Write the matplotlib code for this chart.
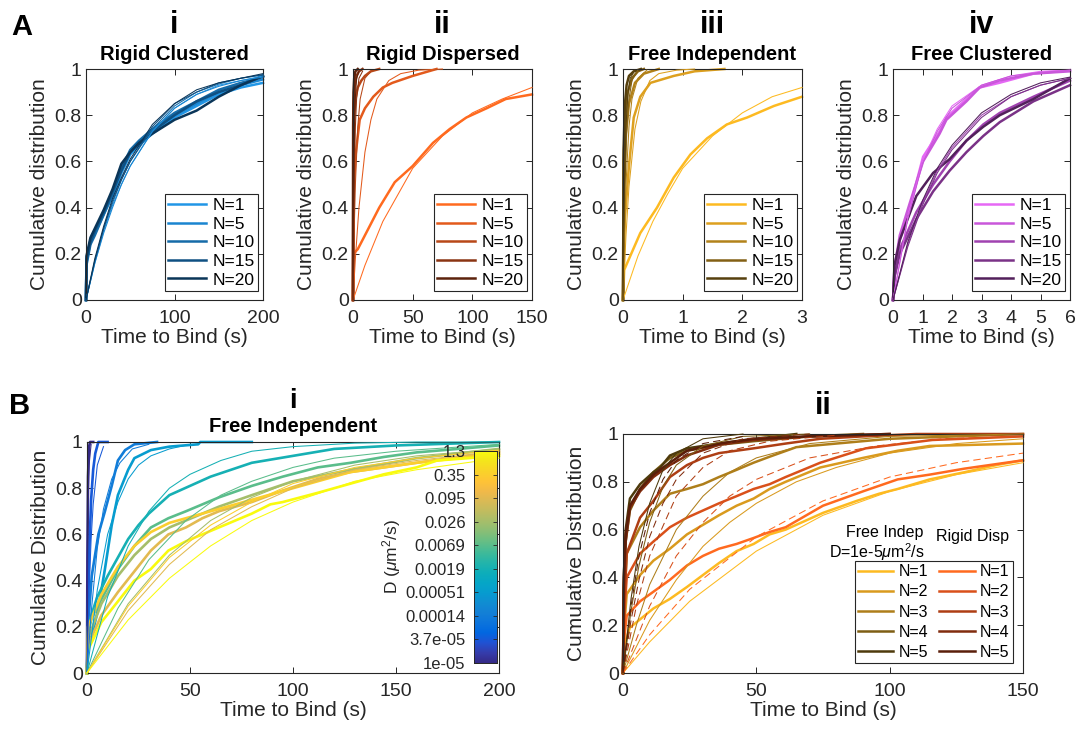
import numpy as np
import matplotlib
matplotlib.use('Agg')
import matplotlib.pyplot as plt
from matplotlib.colors import LinearSegmentedColormap
from matplotlib.lines import Line2D

plt.rcParams['font.family'] = ['Liberation Sans', 'DejaVu Sans']
plt.rcParams['mathtext.fontset'] = 'custom'
plt.rcParams['mathtext.rm'] = 'Liberation Sans'
plt.rcParams['mathtext.it'] = 'Liberation Sans:italic'

# ---------------------------------------------------------------- DATA
N_labels_A = ['N=1', 'N=5', 'N=10', 'N=15', 'N=20']
N_labels_B = ['N=1', 'N=2', 'N=3', 'N=4', 'N=5']

# ---- A-i Rigid Clustered
A1_emp_t = [[0, 0.5, 5, 10, 20, 30, 40, 50, 60, 75, 100, 125, 150, 175, 200]] * 5
A1_emp_F = [
    [0, 0.16, 0.25, 0.29, 0.37, 0.45, 0.55, 0.63, 0.67, 0.72, 0.79, 0.84, 0.89, 0.92, 0.94],
    [0, 0.18, 0.26, 0.30, 0.38, 0.46, 0.56, 0.64, 0.68, 0.73, 0.80, 0.85, 0.90, 0.93, 0.955],
    [0, 0.15, 0.24, 0.28, 0.37, 0.46, 0.57, 0.65, 0.69, 0.74, 0.81, 0.86, 0.91, 0.94, 0.965],
    [0, 0.17, 0.25, 0.30, 0.38, 0.47, 0.56, 0.64, 0.68, 0.73, 0.80, 0.86, 0.90, 0.93, 0.97],
    [0, 0.19, 0.27, 0.31, 0.39, 0.48, 0.59, 0.64, 0.68, 0.72, 0.78, 0.82, 0.88, 0.93, 0.97],
]
A1_fit_t = [[0, 10, 20, 30, 40, 50, 75, 100, 125, 150, 175, 200]] * 5
A1_fit_F = [
    [0, 0.16, 0.30, 0.41, 0.50, 0.58, 0.73, 0.83, 0.89, 0.93, 0.95, 0.97],
    [0, 0.16, 0.29, 0.40, 0.50, 0.58, 0.73, 0.83, 0.89, 0.925, 0.95, 0.965],
    [0, 0.17, 0.31, 0.42, 0.52, 0.60, 0.74, 0.84, 0.90, 0.935, 0.96, 0.975],
    [0, 0.17, 0.31, 0.43, 0.52, 0.60, 0.75, 0.85, 0.90, 0.94, 0.96, 0.975],
    [0, 0.18, 0.32, 0.44, 0.53, 0.61, 0.76, 0.85, 0.91, 0.94, 0.96, 0.98],
]

# ---- A-ii Rigid Dispersed
A2_emp_t = [
    [0, 0.3, 4, 14, 22, 35, 50, 67, 81, 95, 112, 128, 150],
    [0, 0.5, 2, 5.6, 10, 17, 25, 33, 50, 70],
    [0, 0.3, 1, 2, 4, 7, 10, 15, 22],
    [0, 0.2, 0.6, 1.5, 3, 5, 8],
    [0, 0.1, 0.4, 1, 2, 4],
]
A2_emp_F = [
    [0, 0.20, 0.22, 0.32, 0.40, 0.51, 0.58, 0.68, 0.74, 0.79, 0.83, 0.87, 0.89],
    [0, 0.45, 0.62, 0.78, 0.83, 0.88, 0.92, 0.94, 0.97, 1.0],
    [0, 0.60, 0.80, 0.87, 0.92, 0.95, 0.97, 0.99, 1.0],
    [0, 0.70, 0.85, 0.93, 0.97, 0.99, 1.0],
    [0, 0.75, 0.90, 0.96, 0.99, 1.0],
]
A2_fit_t = [
    [0, 10, 25, 50, 75, 100, 125, 150],
    [0, 2, 5, 10, 15, 20, 30, 40, 55, 75],
    [0, 1, 2, 4, 6, 10, 15],
    [0, 0.5, 1, 2, 3, 5, 8],
    [0, 0.3, 0.6, 1.2, 2, 3, 5],
]
A2_fit_F = [
    [0, 0.15, 0.34, 0.57, 0.71, 0.81, 0.87, 0.92],
    [0, 0.18, 0.40, 0.64, 0.78, 0.87, 0.95, 0.98, 0.995, 1.0],
    [0, 0.30, 0.50, 0.75, 0.87, 0.96, 0.99],
    [0, 0.30, 0.50, 0.75, 0.87, 0.96, 0.99],
    [0, 0.30, 0.50, 0.75, 0.88, 0.96, 0.99],
]

# ---- A-iii Free Independent
A3_emp_t = [
    [0, 0.02, 0.07, 0.29, 0.57, 0.85, 1.13, 1.41, 1.74, 2.08, 2.53, 3.0],
    [0, 0.03, 0.1, 0.18, 0.29, 0.46, 0.85, 1.2, 1.7],
    [0, 0.02, 0.05, 0.1, 0.2, 0.35, 0.6],
    [0, 0.01, 0.04, 0.08, 0.15, 0.25, 0.35],
    [0, 0.01, 0.03, 0.06, 0.1, 0.18, 0.3],
]
A3_emp_F = [
    [0, 0.13, 0.16, 0.29, 0.40, 0.53, 0.63, 0.70, 0.76, 0.79, 0.84, 0.88],
    [0, 0.35, 0.58, 0.79, 0.88, 0.94, 0.97, 0.99, 1.0],
    [0, 0.50, 0.72, 0.85, 0.94, 0.98, 1.0],
    [0, 0.60, 0.80, 0.90, 0.96, 0.99, 1.0],
    [0, 0.65, 0.84, 0.93, 0.97, 0.99, 1.0],
]
A3_fit_t = [
    [0, 0.25, 0.5, 0.75, 1, 1.5, 2, 2.5, 3],
    [0, 0.05, 0.1, 0.2, 0.3, 0.45, 0.6, 0.9, 1.2],
    [0, 0.02, 0.05, 0.1, 0.15, 0.25, 0.4],
    [0, 0.015, 0.03, 0.06, 0.1, 0.15, 0.25],
    [0, 0.01, 0.025, 0.05, 0.08, 0.12, 0.2],
]
A3_fit_F = [
    [0, 0.19, 0.34, 0.46, 0.57, 0.71, 0.81, 0.88, 0.92],
    [0, 0.28, 0.49, 0.74, 0.86, 0.95, 0.98, 0.995, 1.0],
    [0, 0.25, 0.50, 0.75, 0.87, 0.96, 0.995],
    [0, 0.27, 0.46, 0.72, 0.87, 0.95, 0.995],
    [0, 0.25, 0.50, 0.75, 0.89, 0.96, 0.995],
]

# ---- A-iv Free Clustered
A4_emp_t = [
    [0, 0.05, 0.23, 0.57, 1.02, 1.58, 1.81, 2.49, 2.94, 3.6, 4.76, 6],
    [0, 0.05, 0.23, 0.57, 1.02, 1.58, 1.81, 2.49, 2.94, 3.6, 4.76, 6],
    [0, 0.05, 0.23, 0.79, 1.36, 1.92, 2.49, 3.06, 3.62, 4.76, 6],
    [0, 0.05, 0.23, 0.79, 1.36, 1.92, 2.49, 3.06, 3.62, 4.76, 6],
    [0, 0.05, 0.23, 0.79, 1.36, 1.92, 2.49, 3.06, 3.62, 4.76, 6],
]
A4_emp_F = [
    [0, 0.12, 0.26, 0.40, 0.62, 0.73, 0.79, 0.87, 0.92, 0.94, 0.98, 0.995],
    [0, 0.14, 0.28, 0.42, 0.60, 0.72, 0.78, 0.86, 0.92, 0.95, 0.98, 0.99],
    [0, 0.10, 0.22, 0.38, 0.50, 0.60, 0.69, 0.76, 0.81, 0.88, 0.95],
    [0, 0.10, 0.20, 0.35, 0.47, 0.56, 0.64, 0.71, 0.77, 0.86, 0.93],
    [0, 0.15, 0.26, 0.45, 0.55, 0.61, 0.69, 0.75, 0.80, 0.87, 0.96],
]
A4_fit_t = [[0, 0.5, 1, 1.5, 2, 3, 4, 5, 6]] * 5
A4_fit_F = [
    [0, 0.36, 0.60, 0.74, 0.84, 0.93, 0.97, 0.99, 0.995],
    [0, 0.35, 0.59, 0.73, 0.83, 0.93, 0.97, 0.985, 0.995],
    [0, 0.24, 0.42, 0.56, 0.66, 0.80, 0.88, 0.93, 0.96],
    [0, 0.23, 0.41, 0.55, 0.65, 0.79, 0.88, 0.93, 0.96],
    [0, 0.25, 0.43, 0.57, 0.67, 0.81, 0.89, 0.94, 0.965],
]

# ---- B-i Free Independent, varying D
D_labels = ['1e-05', '3.7e-05', '0.00014', '0.00051', '0.0019',
            '0.0069', '0.026', '0.095', '0.35', '1.3']
B1_emp_t = [
    [0, 0.2, 0.5, 1, 1.5, 3],
    [0, 0.5, 1, 2, 3, 4, 5.5, 10],
    [0, 0.5, 2.3, 5.5, 8.7, 12, 15, 18.5, 23, 34],
    [0, 0.5, 2.3, 5.5, 8.7, 12, 15, 20, 23, 31, 40, 54, 55, 80],
    [0, 0.5, 1, 5, 10, 15, 20, 25, 30, 40, 50, 60, 70, 80, 100, 120, 150, 200],
    [0, 0.5, 2.3, 7, 15, 23, 31, 39.5, 48, 56, 64, 72, 80, 95, 112, 128, 144, 160, 200],
    [0, 0.5, 7, 15, 23, 31, 40, 48, 64, 80, 100, 128, 160, 200],
    [0, 0.5, 7, 15, 23, 31, 39.5, 48, 56, 64, 72, 80, 95, 112, 128, 160, 200],
    [0, 0.5, 7, 15, 23, 31, 40, 48, 64, 80, 100, 128, 160, 200],
    [0, 0.5, 7, 15, 23, 31, 39.5, 48, 56, 64, 72, 80, 89, 95, 112, 128, 144, 160, 170, 200],
]
B1_emp_F = [
    [0, 0.50, 0.85, 0.98, 1.0, 1.0],
    [0, 0.30, 0.50, 0.75, 0.88, 0.95, 1.0, 1.0],
    [0, 0.20, 0.42, 0.60, 0.70, 0.81, 0.92, 0.965, 0.99, 1.0],
    [0, 0.12, 0.16, 0.28, 0.45, 0.64, 0.77, 0.88, 0.93, 0.965, 0.98, 0.99, 1.0, 1.0],
    [0, 0.18, 0.22, 0.33, 0.42, 0.50, 0.58, 0.64, 0.69, 0.77, 0.81, 0.85, 0.88, 0.91, 0.94, 0.97, 0.985, 1.0],
    [0, 0.17, 0.24, 0.32, 0.45, 0.55, 0.63, 0.67, 0.70, 0.73, 0.76, 0.785, 0.81, 0.85, 0.89, 0.91, 0.935, 0.955, 0.985],
    [0, 0.15, 0.30, 0.42, 0.51, 0.58, 0.63, 0.66, 0.72, 0.77, 0.83, 0.88, 0.93, 0.97],
    [0, 0.12, 0.25, 0.35, 0.44, 0.53, 0.60, 0.63, 0.67, 0.70, 0.72, 0.74, 0.79, 0.84, 0.87, 0.91, 0.96],
    [0, 0.20, 0.34, 0.46, 0.55, 0.61, 0.65, 0.67, 0.71, 0.75, 0.80, 0.87, 0.91, 0.95],
    [0, 0.10, 0.22, 0.31, 0.40, 0.45, 0.53, 0.57, 0.60, 0.63, 0.66, 0.69, 0.73, 0.74, 0.78, 0.82, 0.86, 0.89, 0.92, 0.94],
]
B1_fit_t = [
    [0, 0.3, 0.6, 1, 2],
    [0, 1, 2, 3, 5, 8],
    [0, 2, 5, 8, 12, 16, 22, 30],
    [0, 5, 10, 15, 20, 25, 31, 40, 50],
    [0, 10, 20, 30, 40, 50, 65, 80, 100, 130, 160, 200],
    [0, 15, 30, 48, 65, 80, 100, 120, 150, 200],
    [0, 20, 40, 60, 80, 100, 130, 160, 200],
    [0, 20, 40, 60, 80, 100, 130, 160, 200],
    [0, 20, 40, 60, 80, 100, 130, 160, 200],
    [0, 20, 40, 60, 80, 100, 130, 160, 200],
]
B1_fit_F = [
    [0, 0.50, 0.75, 0.90, 0.99],
    [0, 0.35, 0.58, 0.73, 0.90, 0.98],
    [0, 0.26, 0.54, 0.71, 0.84, 0.91, 0.97, 0.99],
    [0, 0.36, 0.60, 0.74, 0.84, 0.90, 0.94, 0.97, 0.99],
    [0, 0.33, 0.55, 0.70, 0.80, 0.86, 0.92, 0.96, 0.98, 0.995, 1.0, 1.0],
    [0, 0.28, 0.49, 0.66, 0.77, 0.83, 0.89, 0.93, 0.96, 0.99],
    [0, 0.30, 0.51, 0.66, 0.76, 0.83, 0.90, 0.94, 0.97],
    [0, 0.27, 0.47, 0.62, 0.72, 0.80, 0.88, 0.92, 0.96],
    [0, 0.29, 0.50, 0.64, 0.74, 0.82, 0.89, 0.93, 0.965],
    [0, 0.23, 0.41, 0.55, 0.66, 0.74, 0.83, 0.88, 0.93],
]

# ---- B-ii Free Indep (D=1e-5) vs Rigid Disp, N=1..5
B2_free_t = [
    [0, 0.5, 2.6, 11.4, 17.6, 24, 30, 36, 42.6, 49, 55, 61, 75, 87.6, 96, 103, 115, 128, 140, 150],
    [0, 0.5, 1.4, 6.4, 11.4, 17.6, 24, 30, 36, 42.6, 49, 55, 61, 74, 90, 103, 115, 150],
    [0, 0.5, 1.4, 6.4, 11.4, 17.6, 24, 30, 36, 42.6, 49, 55, 65, 80, 100, 150],
    [0, 0.3, 1, 2.6, 6.4, 11.4, 17.6, 24, 36, 49, 70, 90],
    [0, 0.3, 1, 2.6, 6.4, 11.4, 14, 17.6, 24, 36, 50, 65],
]
B2_free_F = [
    [0, 0.12, 0.19, 0.27, 0.31, 0.36, 0.41, 0.46, 0.51, 0.54, 0.58, 0.60, 0.67, 0.72, 0.75, 0.77, 0.81, 0.84, 0.87, 0.89],
    [0, 0.20, 0.33, 0.41, 0.47, 0.52, 0.58, 0.62, 0.66, 0.70, 0.73, 0.77, 0.80, 0.86, 0.90, 0.93, 0.95, 0.96],
    [0, 0.30, 0.50, 0.61, 0.68, 0.75, 0.77, 0.79, 0.82, 0.85, 0.88, 0.905, 0.945, 0.96, 0.98, 1.0],
    [0, 0.35, 0.55, 0.68, 0.77, 0.84, 0.90, 0.93, 0.955, 0.97, 0.99, 1.0],
    [0, 0.40, 0.60, 0.73, 0.79, 0.84, 0.86, 0.91, 0.94, 0.96, 0.98, 1.0],
]
B2_rigid_t = [
    [0, 0.5, 1.4, 6.4, 11.4, 17.6, 24, 30, 36, 42.6, 49, 55, 61, 75, 90, 103, 115, 128, 150],
    [0, 0.5, 1.4, 6.4, 11.4, 17.6, 24, 30, 36, 42.6, 49, 55, 61, 74, 91, 116, 150],
    [0, 0.5, 1.4, 6.4, 11.4, 17.6, 24, 30, 36, 49, 61, 74, 90, 110, 150],
    [0, 0.3, 1, 2.6, 6.4, 11.4, 17.6, 24, 36, 49, 70, 100],
    [0, 0.3, 1, 2.6, 6.4, 11.4, 17.6, 24, 36, 49, 70, 100],
]
B2_rigid_F = [
    [0, 0.15, 0.24, 0.30, 0.34, 0.39, 0.45, 0.49, 0.52, 0.54, 0.565, 0.59, 0.61, 0.70, 0.76, 0.81, 0.83, 0.855, 0.89],
    [0, 0.25, 0.40, 0.50, 0.55, 0.61, 0.65, 0.68, 0.71, 0.74, 0.77, 0.79, 0.82, 0.88, 0.94, 0.975, 0.99],
    [0, 0.30, 0.50, 0.65, 0.72, 0.82, 0.87, 0.90, 0.92, 0.94, 0.96, 0.98, 0.99, 1.0, 1.0],
    [0, 0.35, 0.55, 0.69, 0.76, 0.82, 0.87, 0.91, 0.955, 0.975, 0.99, 1.0],
    [0, 0.40, 0.58, 0.70, 0.77, 0.83, 0.88, 0.93, 0.96, 0.98, 0.99, 1.0],
]
B2_free_fit_t = [
    [0, 10, 25, 50, 75, 100, 125, 150],
    [0, 10, 20, 30, 40, 50, 65, 80, 100, 125, 150],
    [0, 5, 10, 20, 30, 40, 50, 70, 100, 150],
    [0, 3, 6, 10, 15, 20, 30, 45, 70],
    [0, 3, 6, 10, 15, 20, 30, 45],
]
B2_free_fit_F = [
    [0, 0.13, 0.30, 0.51, 0.66, 0.76, 0.83, 0.88],
    [0, 0.22, 0.39, 0.53, 0.63, 0.71, 0.80, 0.86, 0.92, 0.96, 0.98],
    [0, 0.20, 0.37, 0.60, 0.74, 0.84, 0.90, 0.96, 0.99, 1.0],
    [0, 0.26, 0.45, 0.63, 0.78, 0.87, 0.95, 0.99, 1.0],
    [0, 0.31, 0.53, 0.71, 0.85, 0.92, 0.98, 1.0],
]
B2_rigid_fit_t = [
    [0, 10, 25, 50, 75, 100, 125, 150],
    [0, 10, 20, 30, 40, 50, 70, 95, 120, 150],
    [0, 5, 10, 20, 30, 40, 55, 80],
    [0, 3, 6, 10, 15, 20, 30, 45, 70],
    [0, 3, 6, 10, 15, 20, 30, 45],
]
B2_rigid_fit_F = [
    [0, 0.16, 0.35, 0.57, 0.72, 0.82, 0.88, 0.92],
    [0, 0.28, 0.49, 0.63, 0.74, 0.81, 0.90, 0.95, 0.98, 0.99],
    [0, 0.28, 0.49, 0.74, 0.86, 0.93, 0.97, 0.995],
    [0, 0.22, 0.39, 0.57, 0.71, 0.81, 0.92, 0.98, 1.0],
    [0, 0.28, 0.49, 0.67, 0.81, 0.89, 0.96, 0.99],
]

# ---------------------------------------------------------------- STYLE
DARK = (0.15, 0.15, 0.15)
W, H = 1076, 732

col_A1 = ['#2196E6', '#1A85D0', '#156BA8', '#0F5082', '#0A3558']
col_A2 = ['#FF6A1F', '#E35A1C', '#B84818', '#8A3412', '#5C220C']
col_A3 = ['#FDBA21', '#DDA01F', '#B2821A', '#836014', '#56400E']
col_A4 = ['#E668F5', '#C957DA', '#A043B0', '#7A3287', '#52205B']
col_Bf = ['#FDBA21', '#D99A1E', '#AE7E1A', '#7E5E14', '#4E3A0C']
col_Br = ['#FF6A1F', '#D9501A', '#AE3E14', '#812C0E', '#5A1E0A']

parula_pts = [
    (0.2081, 0.1663, 0.5292), (0.2081, 0.2386, 0.6771), (0.1253, 0.3242, 0.8303),
    (0.0060, 0.4086, 0.8828), (0.0498, 0.4586, 0.8641), (0.0779, 0.5040, 0.8384),
    (0.0641, 0.5570, 0.8240), (0.0265, 0.6137, 0.8135), (0.0228, 0.6535, 0.7768),
    (0.0590, 0.6838, 0.7254), (0.1453, 0.7098, 0.6646), (0.2586, 0.7317, 0.5954),
    (0.3953, 0.7459, 0.5244), (0.5300, 0.7491, 0.4661), (0.6473, 0.7456, 0.4188),
    (0.7525, 0.7384, 0.3768), (0.8507, 0.7299, 0.3360), (0.9450, 0.7261, 0.2886),
    (0.9990, 0.7653, 0.2164), (0.9789, 0.8271, 0.1633), (0.9589, 0.8949, 0.1132),
    (0.9763, 0.9831, 0.0538)]
parula = LinearSegmentedColormap.from_list('parula', parula_pts)
col_B1 = [parula(i / 9) for i in range(10)]


def rect(l, r, t, b):
    return [l / W, 1 - b / H, (r - l) / W, (b - t) / H]


fig = plt.figure(figsize=(W / 100, H / 100), dpi=100)


def style(ax, xlim, xticks, ylabel):
    ax.set_xlim(*xlim)
    ax.set_ylim(0, 1)
    ax.set_xticks(xticks)
    ax.set_xticklabels([('%g' % v) for v in xticks])
    ax.set_yticks([0, 0.2, 0.4, 0.6, 0.8, 1])
    ax.set_yticklabels(['0', '0.2', '0.4', '0.6', '0.8', '1'])
    ax.tick_params(direction='in', top=True, right=True, length=4, width=0.7,
                   labelsize=14, colors=DARK)
    ax.tick_params(axis='x', pad=7)
    ax.tick_params(axis='y', pad=3)
    for s in ax.spines.values():
        s.set_color(DARK)
        s.set_linewidth(0.8)
    ax.set_xlabel('Time to Bind (s)', fontsize=15, color=DARK, labelpad=1)
    ax.set_ylabel(ylabel, fontsize=15, color=DARK, labelpad=4)


def draw(ax, et, eF, ft, fF, cols, lw=1.8, fit_ls='-'):
    for t, F, c in zip(et, eF, cols):
        ax.plot(t, F, color=c, lw=lw, clip_on=False, zorder=2)
    for t, F, c in zip(ft, fF, cols):
        ax.plot(t, F, color=c, lw=0.75, ls=fit_ls, clip_on=False, zorder=3)


def small_legend(ax, cols, labels, anchor, ncol=1, fs=12.5, ls=0.2):
    hs = [Line2D([], [], color=c, lw=1.8) for c in cols]
    lg = ax.legend(hs, labels, loc='lower right', bbox_to_anchor=anchor,
                   borderaxespad=0, fancybox=False, framealpha=1, edgecolor=DARK,
                   fontsize=fs, handlelength=2.2, handletextpad=0.35,
                   labelspacing=ls, borderpad=0.2, ncol=ncol, columnspacing=0.7)
    lg.get_frame().set_linewidth(0.8)
    lg.set_zorder(5)
    return lg


panelsA = [
    (rect(86, 263, 69, 300), A1_emp_t, A1_emp_F, A1_fit_t, A1_fit_F, col_A1, (0, 200), [0, 100, 200], 'i', 'Rigid Clustered'),
    (rect(353, 532, 69, 300), A2_emp_t, A2_emp_F, A2_fit_t, A2_fit_F, col_A2, (0, 150), [0, 50, 100, 150], 'ii', 'Rigid Dispersed'),
    (rect(623, 802, 69, 300), A3_emp_t, A3_emp_F, A3_fit_t, A3_fit_F, col_A3, (0, 3), [0, 1, 2, 3], 'iii', 'Free Independent'),
    (rect(893, 1070, 69, 300), A4_emp_t, A4_emp_F, A4_fit_t, A4_fit_F, col_A4, (0, 6), [0, 1, 2, 3, 4, 5, 6], 'iv', 'Free Clustered'),
]
for r, et, eF, ft, fF, cols, xl, xt, rn, ttl in panelsA:
    ax = fig.add_axes(r)
    draw(ax, et, eF, ft, fF, cols)
    style(ax, xl, xt, 'Cumulative distribution')
    pw = r[2] * W
    small_legend(ax, cols, N_labels_A, (1 - 5 / pw, 9 / 231))
    xc = (r[0] + r[2] / 2)
    fig.text(xc, 1 - 25 / H, rn, ha='center', va='center', fontsize=22, fontweight='bold')
    fig.text(xc, 1 - 54 / H, ttl, ha='center', va='center', fontsize=14.5, fontweight='bold')

fig.text(22 / W, 1 - 27 / H, 'A', ha='center', va='center', fontsize=21, fontweight='bold')
fig.text(20 / W, 1 - 406 / H, 'B', ha='center', va='center', fontsize=21, fontweight='bold')

# ---- B-i
rb1 = rect(87, 499, 442, 673)
ax = fig.add_axes(rb1)
draw(ax, B1_emp_t, B1_emp_F, B1_fit_t, B1_fit_F, col_B1, lw=1.9)
style(ax, (0, 200), [0, 50, 100, 150, 200], 'Cumulative Distribution')
xc = rb1[0] + rb1[2] / 2
fig.text(xc, 1 - 401 / H, 'i', ha='center', va='center', fontsize=20, fontweight='bold')
fig.text(xc, 1 - 427 / H, 'Free Independent', ha='center', va='center', fontsize=14.5, fontweight='bold')

cax = fig.add_axes(rect(474, 497, 451, 663))
cax.imshow(np.linspace(0, 1, 256)[:, None], aspect='auto', cmap=parula,
           origin='lower', extent=[0, 1, 0, 1])
cax.set_xticks([])
cax.set_yticks(np.linspace(0, 1, 10))
cax.set_yticklabels(D_labels)
cax.yaxis.tick_left()
cax.tick_params(axis='y', direction='in', length=3, width=0.6, labelsize=12,
                colors=DARK, pad=6, left=True, right=True)
for s in cax.spines.values():
    s.set_color(DARK)
    s.set_linewidth(0.7)
cax.yaxis.set_label_position('left')
cax.set_ylabel(r'D ($\mu$m$^2$/s)', fontsize=12.5, color=DARK, labelpad=2)

# ---- B-ii
rb2 = rect(623, 1023, 434, 673)
ax = fig.add_axes(rb2)
draw(ax, B2_free_t, B2_free_F, B2_free_fit_t, B2_free_fit_F, col_Bf)
draw(ax, B2_rigid_t, B2_rigid_F, B2_rigid_fit_t, B2_rigid_fit_F, col_Br,
     fit_ls=(0, (7, 4)))
style(ax, (0, 150), [0, 50, 100, 150], 'Cumulative Distribution')
small_legend(ax, col_Bf + col_Br, N_labels_B + N_labels_B,
             (1 - 10 / 400, 10 / 239), ncol=2, fs=11.5, ls=0.32)
xc = rb2[0] + rb2[2] / 2
fig.text(xc, 1 - 406 / H, 'ii', ha='center', va='center', fontsize=22, fontweight='bold')
fig.text(885 / W, 1 - 533 / H, 'Free Indep', ha='center', va='center', fontsize=11.5, color='black')
fig.text(877 / W, 1 - 552 / H, r'D=1e-5$\mu$m$^2$/s', ha='center', va='center', fontsize=11.5, color='black')
fig.text(972 / W, 1 - 537 / H, 'Rigid Disp', ha='center', va='center', fontsize=11.5, color='black')

fig.savefig('out.png', dpi=100, facecolor='white')
